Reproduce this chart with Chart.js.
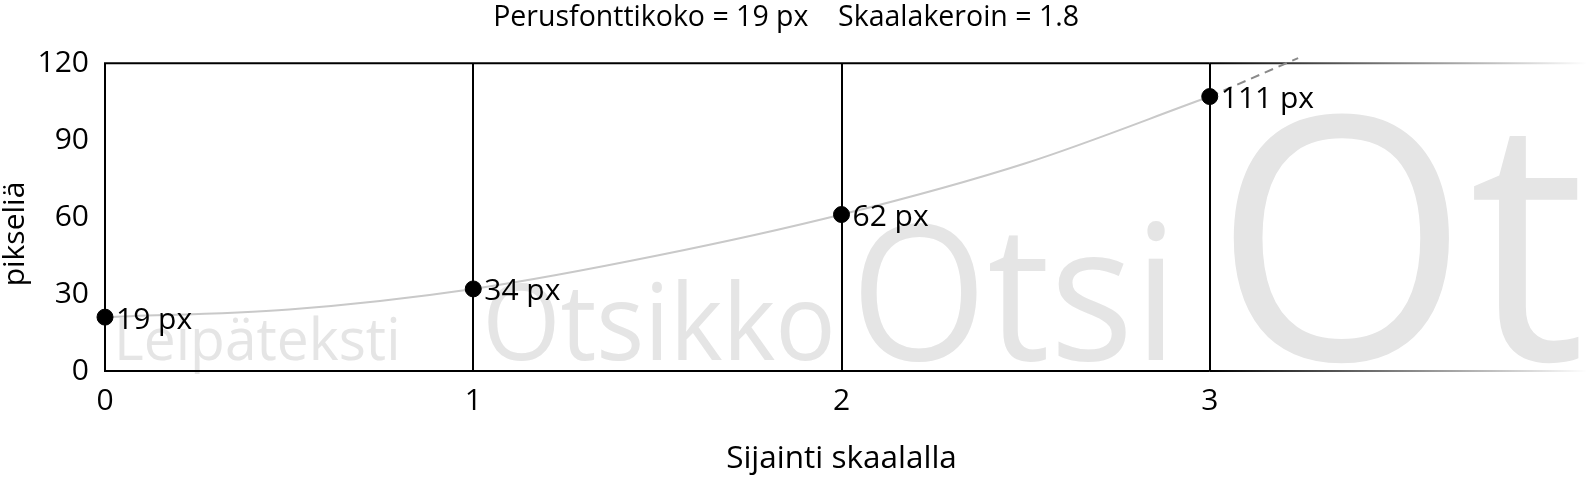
<!DOCTYPE html>
<html>
<head>
<meta charset="utf-8">
<script src="https://cdn.jsdelivr.net/npm/chart.js@4"></script>
<style>
    html, body { margin: 0; padding: 0; background: #fff; }
    #wrap { width: 1587px; height: 479px; }
</style>
</head>
<body>
<div id="wrap"><canvas id="scaleChart"></canvas></div>
<script>

// ======================
// DATA
// ======================
const positions = [0, 1, 2, 3];
const pointValues = [21, 32, 61, 107];          // as plotted
const pointLabels = ["19 px", "34 px", "62 px", "111 px"];
const sampleWords = ["Leipäteksti", "Otsikko", "Otsi", "Ot"];

// grey curve
const curveX = [0, 0.5, 1, 1.5, 2, 2.5, 3];
const curveY = [21, 24, 32, 45, 61, 81, 107];

// dashed continuation past the last step
const extX = [3, 3.24];
const extY = [107, 122];

const xTicks = [0, 1, 2, 3];
const yTicks = [0, 30, 60, 90, 120];

const titleText = "Perusfonttikoko = 19 px    Skaalakeroin = 1.8";
const xTitle = "Sijainti skaalalla";
const yTitle = "pikseliä";


// ======================
// STYLE
// ======================
const FONT = "'Open Sans', 'Noto Sans', sans-serif";
const sampleSizes = [59, 107, 189, 340];
const sampleSqueeze = [0.965, 0.94, 0.93, 0.965];
const sampleShift = [9, 9, 9, 4];

Chart.defaults.font.family = FONT;
Chart.defaults.font.size = 30;
Chart.defaults.color = "#000";


// ======================
// PLUGIN: sample words, frame, labels
// ======================
const backgroundWords = {
    id: "backgroundWords",
    beforeDraw(chart) {
        const { ctx, chartArea, scales } = chart;
        ctx.save();
        ctx.fillStyle = "#e5e5e5";
        ctx.textBaseline = "alphabetic";
        ctx.textAlign = "left";
        sampleWords.forEach((w, i) => {
            const x = scales.x.getPixelForValue(positions[i]) + sampleShift[i];
            ctx.save();
            ctx.translate(x, chartArea.bottom - 11);
            ctx.scale(sampleSqueeze[i], 1);
            ctx.font = sampleSizes[i] + "px " + FONT;
            ctx.fillText(w, 0, 0);
            ctx.restore();
        });
        ctx.restore();
    },
    beforeDatasetsDraw(chart) {
        const { ctx, chartArea, scales } = chart;
        const x3 = scales.x.getPixelForValue(3);
        const right = chart.width;

        const grad = ctx.createLinearGradient(x3, 0, right, 0);
        grad.addColorStop(0, "#000");
        grad.addColorStop(1, "rgba(0,0,0,0)");

        ctx.save();
        ctx.lineWidth = 2;

        // left edge
        ctx.strokeStyle = "#000";
        ctx.beginPath();
        ctx.moveTo(chartArea.left, chartArea.top);
        ctx.lineTo(chartArea.left, chartArea.bottom);
        ctx.stroke();

        [chartArea.top, chartArea.bottom].forEach(y => {
            ctx.strokeStyle = "#000";
            ctx.beginPath();
            ctx.moveTo(chartArea.left - 1, y);
            ctx.lineTo(x3, y);
            ctx.stroke();

            ctx.strokeStyle = grad;
            ctx.beginPath();
            ctx.moveTo(x3, y);
            ctx.lineTo(right, y);
            ctx.stroke();
        });

        // y title
        ctx.fillStyle = "#000";
        ctx.font = "30px " + FONT;
        ctx.textAlign = "center";
        ctx.textBaseline = "middle";
        ctx.translate(15, 234);
        ctx.rotate(-Math.PI / 2);
        ctx.fillText(yTitle, 0, 0);
        ctx.restore();
    },
    afterDatasetsDraw(chart) {
        const { ctx } = chart;
        const meta = chart.getDatasetMeta(2);
        ctx.save();
        ctx.fillStyle = "#000";
        ctx.font = "30px " + FONT;
        ctx.textAlign = "left";
        ctx.textBaseline = "middle";
        meta.data.forEach((pt, i) => {
            ctx.fillText(pointLabels[i], pt.x + 11, pt.y + 3);
        });
        ctx.restore();
    }
};


// ======================
// CHART
// ======================
new Chart(document.getElementById("scaleChart"), {
    type: "scatter",
    data: {
        datasets: [
            {
                data: curveX.map((x, i) => ({ x, y: curveY[i] })),
                showLine: true,
                borderColor: "#c9c9c9",
                borderWidth: 2,
                pointRadius: 0,
                cubicInterpolationMode: "monotone",
                order: 3
            },
            {
                data: extX.map((x, i) => ({ x, y: extY[i] })),
                showLine: true,
                borderColor: "#8a8a8a",
                borderWidth: 2,
                borderDash: [9, 6],
                pointRadius: 0,
                clip: false,
                order: 2
            },
            {
                data: positions.map((x, i) => ({ x, y: pointValues[i] })),
                showLine: false,
                backgroundColor: "#000",
                borderColor: "#000",
                pointRadius: 8,
                pointBackgroundColor: "#000",
                pointBorderColor: "#000",
                pointBorderWidth: 1,
                clip: false,
                order: 1
            }
        ]
    },
    options: {
        responsive: true,
        maintainAspectRatio: false,
        animation: false,
        events: [],
        layout: { padding: 0 },
        plugins: {
            legend: { display: false },
            tooltip: { enabled: false },
            title: {
                display: true,
                text: titleText + "  ",
                color: "#000",
                font: { size: 28.5, weight: "normal" },
                padding: { top: 1, bottom: 28 }
            }
        },
        scales: {
            x: {
                type: "linear",
                min: 0,
                max: 4,
                afterBuildTicks: s => { s.ticks = xTicks.map(v => ({ value: v })); },
                afterFit: s => { s.height = 108; },
                border: { display: false },
                grid: {
                    drawTicks: false,
                    lineWidth: 2,
                    color: c => (c.tick && c.tick.value > 0 && c.tick.value < 4) ? "#000" : "rgba(0,0,0,0)"
                },
                ticks: { padding: 12, font: { size: 30 }, color: "#000" },
                title: {
                    display: true,
                    text: xTitle,
                    color: "#000",
                    font: { size: 31.5 },
                    padding: { top: 0, bottom: 1 }
                }
            },
            y: {
                min: 0,
                max: 120,
                afterBuildTicks: s => { s.ticks = yTicks.map(v => ({ value: v })); },
                afterFit: s => { s.width = 105; },
                border: { display: false },
                grid: { display: false, drawTicks: false },
                ticks: { padding: 16, font: { size: 30 }, color: "#000" }
            }
        }
    },
    plugins: [backgroundWords]
});
</script>
</body>
</html>
